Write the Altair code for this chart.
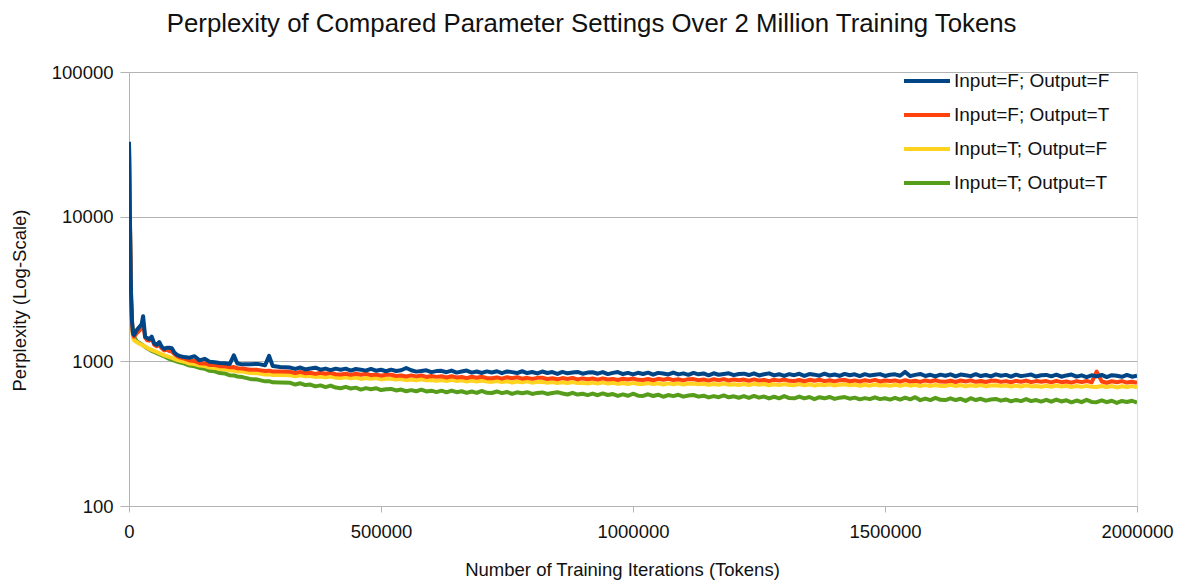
import altair as alt
import pandas as pd

# ---- data ----
TOKENS_EARLY = [0, 2000, 4000, 6000, 8000, 10000, 15000, 20000, 25000, 28000,
                32000, 36000, 40000, 45000, 50000, 55000, 60000, 65000, 70000, 75000,
                80000, 85000, 90000, 95000, 100000, 110000, 120000, 130000, 140000, 150000,
                160000, 170000, 180000, 190000, 200000, 208000, 215000, 225000, 240000, 255000,
                270000, 278000, 285000, 300000]
TOKENS_LATE = list(range(320000, 2000001, 10000))
TOKENS = TOKENS_EARLY + TOKENS_LATE

SERIES = ["Input=F; Output=F", "Input=F; Output=T", "Input=T; Output=F", "Input=T; Output=T"]
COLORS = ["#004586", "#ff420e", "#ffd320", "#579d1c"]

FF = [33000, 9000, 3000, 1900, 1560, 1520, 1640, 1720, 1800, 2050,
      1480, 1450, 1420, 1480, 1330, 1300, 1360, 1260, 1220, 1240,
      1240, 1230, 1150, 1110, 1090, 1070, 1060, 1085, 1016, 1040,
      995, 985, 975, 970, 960, 1100, 965, 953, 955, 960,
      940, 1090, 930, 915,
      905, 886, 906, 879, 893, 904, 876, 891, 869, 890,
      874, 890, 863, 885, 876, 862, 886, 861, 874, 854,
      876, 857, 868, 900, 868, 849, 858, 867, 842, 856,
      860, 841, 863, 836, 851, 863, 836, 851, 831, 852,
      837, 854, 828, 851, 842, 830, 854, 830, 844, 825,
      850, 831, 843, 819, 845, 826, 836, 845, 821, 836,
      840, 821, 843, 816, 832, 843, 817, 832, 812, 833,
      818, 835, 809, 832, 824, 811, 836, 812, 826, 807,
      832, 813, 825, 801, 827, 808, 818, 827, 803, 818,
      822, 804, 825, 799, 814, 826, 799, 815, 794, 816,
      802, 820, 793, 817, 809, 796, 821, 798, 811, 793,
      819, 801, 813, 789, 815, 797, 807, 816, 792, 808,
      813, 795, 845, 790, 806, 818, 792, 807, 787, 809,
      795, 813, 787, 810, 802, 790, 815, 791, 805, 787,
      813, 795, 806, 783, 809, 790, 800, 810, 785, 801,
      806, 788, 809, 783, 799, 810, 784, 800, 779, 801,
      787, 805, 778, 802, 794, 782, 806, 783, 797]

FT = [32000, 8500, 2900, 1850, 1530, 1480, 1560, 1620, 1700, 1850,
      1460, 1400, 1390, 1450, 1300, 1270, 1300, 1230, 1190, 1200,
      1180, 1170, 1120, 1090, 1065, 1045, 1015, 1005, 970, 968,
      945, 944, 926, 925, 910, 912, 896, 893, 876, 873,
      858, 862, 851, 850,
      846, 830, 845, 828, 834, 819, 834, 821, 832, 814,
      811, 821, 806, 821, 808, 820, 802, 810, 796, 808,
      808, 792, 799, 786, 800, 787, 799, 780, 791, 781,
      788, 773, 789, 774, 780, 766, 782, 770, 782, 765,
      763, 774, 759, 776, 764, 776, 759, 769, 756, 769,
      770, 755, 764, 751, 766, 755, 768, 750, 762, 753,
      761, 747, 763, 749, 756, 743, 759, 748, 761, 745,
      743, 755, 740, 757, 746, 758, 742, 752, 739, 753,
      754, 740, 748, 736, 752, 740, 754, 737, 748, 740,
      748, 734, 750, 736, 744, 730, 747, 736, 749, 733,
      731, 743, 728, 745, 734, 746, 730, 740, 727, 741,
      743, 729, 738, 725, 741, 730, 744, 726, 738, 730,
      738, 724, 741, 726, 734, 721, 738, 726, 740, 724,
      723, 735, 720, 737, 726, 739, 722, 732, 720, 734,
      735, 721, 730, 717, 733, 722, 736, 718, 730, 722,
      730, 716, 733, 718, 726, 713, 730, 718, 732, 716,
      850, 726, 711, 728, 717, 730, 713, 723, 711]

TF = [31000, 8000, 2700, 1750, 1450, 1400, 1360, 1330, 1300, 1290,
      1260, 1240, 1220, 1200, 1180, 1160, 1140, 1120, 1100, 1085,
      1070, 1055, 1040, 1025, 1012, 994, 966, 958, 936, 928,
      906, 901, 884, 881, 864, 863, 851, 849, 831, 828,
      811, 815, 804, 803,
      802, 789, 800, 787, 793, 778, 786, 775, 784, 771,
      767, 777, 764, 772, 756, 767, 757, 766, 750, 758,
      759, 748, 754, 741, 750, 740, 752, 739, 743, 734,
      743, 731, 744, 732, 740, 726, 736, 726, 737, 724,
      721, 732, 720, 729, 714, 726, 717, 727, 712, 721,
      723, 712, 719, 707, 716, 707, 719, 707, 712, 703,
      713, 701, 715, 703, 711, 698, 708, 698, 710, 698,
      696, 708, 696, 706, 691, 704, 695, 706, 691, 701,
      703, 693, 700, 688, 697, 689, 701, 689, 694, 686,
      697, 686, 699, 688, 697, 683, 694, 685, 696, 685,
      684, 696, 684, 694, 680, 692, 684, 695, 680, 690,
      693, 683, 690, 678, 688, 679, 692, 680, 685, 677,
      688, 677, 690, 679, 688, 674, 685, 676, 687, 676,
      675, 687, 675, 685, 671, 683, 675, 686, 671, 681,
      684, 674, 681, 669, 679, 670, 683, 671, 676, 668,
      678, 667, 680, 669, 678, 664, 675, 666, 677, 666,
      664, 676, 664, 674, 660, 672, 664, 674, 660]

TT = [30000, 8000, 2500, 1800, 1550, 1480, 1380, 1345, 1310, 1290,
      1260, 1230, 1210, 1180, 1160, 1140, 1120, 1100, 1080, 1060,
      1040, 1025, 1010, 995, 985, 965, 935, 924, 900, 889,
      860, 854, 830, 824, 800, 799, 786, 778, 756, 748,
      727, 729, 716, 714,
      710, 691, 705, 685, 691, 671, 682, 664, 680, 659,
      652, 666, 649, 658, 638, 653, 642, 652, 633, 642,
      645, 629, 638, 621, 632, 621, 637, 619, 627, 613,
      627, 611, 628, 612, 621, 605, 619, 605, 624, 606,
      604, 619, 603, 614, 595, 611, 601, 612, 595, 605,
      610, 595, 604, 612, 599, 590, 606, 589, 597, 584,
      599, 583, 600, 585, 594, 577, 591, 578, 597, 579,
      577, 592, 576, 588, 569, 585, 575, 587, 570, 580,
      585, 570, 579, 563, 575, 565, 581, 564, 573, 560,
      575, 559, 577, 561, 571, 554, 569, 555, 575, 557,
      555, 571, 555, 567, 548, 565, 555, 567, 550, 561,
      566, 552, 561, 546, 557, 548, 564, 548, 556, 544,
      559, 544, 561, 546, 565, 539, 553, 540, 559, 542,
      540, 555, 540, 551, 533, 556, 540, 551, 535, 545,
      550, 535, 545, 529, 541, 531, 548, 531, 540, 527,
      542, 526, 544, 528, 538, 521, 536, 522, 542, 524,
      522, 538, 522, 534, 516, 532, 523, 534, 518]

rows = []
for name, vals in zip(SERIES, [FF, FT, TF, TT]):
    for t, v in zip(TOKENS, vals):
        rows.append({"tokens": t, "perplexity": v, "series": name})
df = pd.DataFrame(rows)

FONT = "Liberation Sans"
TXT = "#111111"
GRAY = "#b3b3b3"

color = alt.Color(
    "series:N",
    scale=alt.Scale(domain=SERIES, range=COLORS),
    legend=alt.Legend(
        orient="none", legendX=771, legendY=-3, title=None,
        symbolType="M-2.3,0H2.3", symbolSize=400, symbolStrokeWidth=4,
        symbolOffset=15, labelOffset=15,
        labelFont=FONT, labelFontSize=19, labelColor=TXT,
        rowPadding=12, padding=0, labelLimit=400,
    ),
)

x = alt.X(
    "tokens:Q",
    scale=alt.Scale(domain=[0, 2000000], nice=False),
    axis=alt.Axis(
        values=[0, 500000, 1000000, 1500000, 2000000], format="d",
        grid=False, domain=False, ticks=True, tickColor=GRAY, tickSize=6,
        labelFont=FONT, labelFontSize=18.5, labelColor=TXT, labelPadding=10,
        labelFlush=False,
        title="Number of Training Iterations (Tokens)", titleFont=FONT,
        titleFontSize=18.5, titleFontWeight="normal", titleColor=TXT,
        titlePadding=20, titleX=493,
    ),
)
y = alt.Y(
    "perplexity:Q",
    scale=alt.Scale(type="log", domain=[100, 100000], nice=False),
    axis=alt.Axis(
        values=[100, 1000, 10000, 100000], format="d",
        grid=True, gridColor=GRAY, domainColor=GRAY,
        tickColor=GRAY, tickSize=9,
        labelFont=FONT, labelFontSize=18.5, labelColor=TXT, labelPadding=7,
        title="Perplexity (Log-Scale)", titleFont=FONT, titleFontSize=18.5,
        titleFontWeight="normal", titleColor=TXT, titlePadding=22, titleY=228,
    ),
)

layers = []
for name in [SERIES[3], SERIES[2], SERIES[1], SERIES[0]]:
    layers.append(
        alt.Chart(df)
        .transform_filter(alt.datum.series == name)
        .mark_line(strokeWidth=4, strokeJoin="round", clip=True)
        .encode(x=x, y=y, color=color)
    )

chart = (
    alt.layer(*layers)
    .properties(
        width=1008, height=434,
        title=alt.Title(
            "Perplexity of Compared Parameter Settings Over 2 Million Training Tokens",
            font=FONT, fontSize=25.8, fontWeight="normal", color=TXT,
            anchor="middle", frame="bounds", offset=25,
        ),
        autosize=alt.AutoSizeParams(type="none"),
        padding={"left": 129, "top": 72, "right": 40, "bottom": 76},
    )
    .configure_view(stroke=GRAY, strokeWidth=1)
    .configure(background="white")
)

chart.save("out.html", embed_options={"renderer": "svg", "actions": False})
